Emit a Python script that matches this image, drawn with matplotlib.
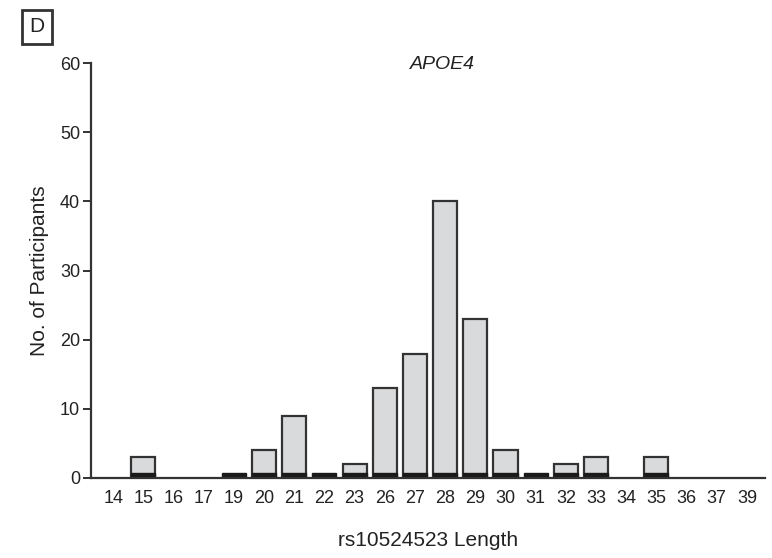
import numpy as np
import matplotlib
matplotlib.use('Agg')
from matplotlib import pyplot as plt
from matplotlib import font_manager

# allele lengths shown on the x axis and participant counts for each
lengths = [14, 15, 16, 17, 19, 20, 21, 22, 23, 26, 27, 28, 29, 30, 31, 32, 33, 34, 35, 36, 37, 39]
counts = [0, 3, 0, 0, 0, 4, 9, 0, 2, 13, 18, 40, 23, 4, 0, 2, 3, 0, 3, 0, 0, 0]
# lengths that get a drawn bar (includes the zero-count ones marked by a base)
observed = [15, 19, 20, 21, 22, 23, 26, 27, 28, 29, 30, 31, 32, 33, 35]

y_ticks = [0, 10, 20, 30, 40, 50, 60]

# pick a narrow sans if it is installed
names = {f.name for f in font_manager.fontManager.ttflist}
family = 'Liberation Sans Narrow' if 'Liberation Sans Narrow' in names else 'Liberation Sans'
plt.rcParams['font.family'] = [family, 'DejaVu Sans']

axis_col = '#333333'
bar_col = '#d9dadc'
text_col = '#222222'

fig = plt.figure(figsize=(7.72, 5.58), dpi=100)
ax = fig.add_axes([0.118, 0.1434, 0.873, 0.7436])

pos = np.arange(len(lengths))
idx = [lengths.index(l) for l in observed]
heights = [counts[i] for i in idx]

ax.bar(pos[idx], heights, width=0.8, color=bar_col, edgecolor=axis_col,
       linewidth=1.6, zorder=2)
# dark base strip along the bottom of each drawn bar
ax.bar(pos[idx], [0.7] * len(idx), width=0.8, color='#1a1a1a',
       edgecolor='#1a1a1a', linewidth=1.0, zorder=3)

ax.set_xlim(-0.73, 21.6)
ax.set_ylim(0, 60)
ax.set_xticks(pos)
ax.set_xticklabels([str(l) for l in lengths])
ax.set_yticks(y_ticks)

for s in ['top', 'right']:
    ax.spines[s].set_visible(False)
for s in ['left', 'bottom']:
    ax.spines[s].set_color(axis_col)
    ax.spines[s].set_linewidth(1.6)
ax.spines['left'].set_zorder(4)
ax.spines['bottom'].set_zorder(4)

ax.tick_params(axis='x', length=0, pad=9, labelsize=13, colors=text_col)
ax.tick_params(axis='y', length=6, width=1.4, color=axis_col, pad=2,
               labelsize=13, labelcolor=text_col)

ax.set_xlabel('rs10524523 Length', fontsize=15, labelpad=17, color=text_col)
ax.set_ylabel('No. of Participants', fontsize=15, labelpad=8, color=text_col)

ax.text(0.522, 0.997, 'APOE4', transform=ax.transAxes, ha='center', va='center',
        fontsize=14, style='italic', color=text_col)

fig.text(0.048, 0.952, 'D', ha='center', va='center', fontsize=15, color=text_col,
         bbox=dict(boxstyle='square,pad=0.35', facecolor='white',
                   edgecolor=axis_col, linewidth=2.0))

fig.savefig('out.png', dpi=100)
